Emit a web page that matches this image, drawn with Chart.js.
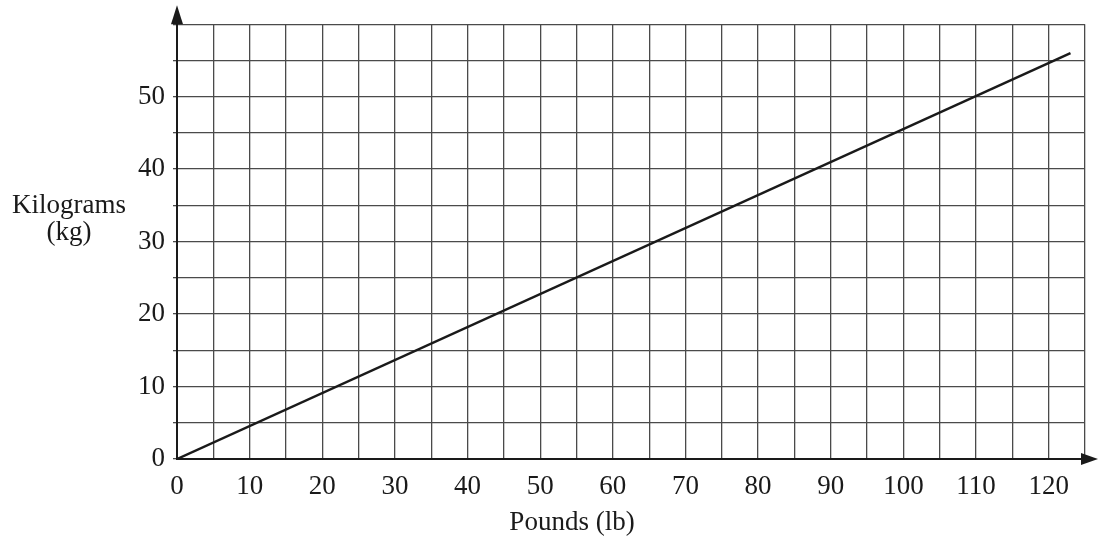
<!DOCTYPE html>
<html>
<head>
<meta charset="utf-8">
<script src="https://cdn.jsdelivr.net/npm/chart.js@4"></script>
<style>
    html, body { margin: 0; padding: 0; background: #fff; }
    #wrap { position: relative; width: 1098px; height: 540px; }
</style>
</head>
<body>
<div id="wrap"><canvas id="convChart" width="1098" height="540"></canvas></div>
<script>
// Pounds -> kilograms conversion line
const pounds = [0, 123];
const kilograms = [0, 56];

const xTitle = 'Pounds (lb)';
const yTitleLines = ['Kilograms', '(kg)'];

const FONT = '"Liberation Serif", "DejaVu Serif", serif';
const INK = '#1a1a1a';

// Axis arrows and the two axis titles (both horizontal, off-centre)
const extrasPlugin = {
    id: 'extras',
    afterDraw(chart) {
        const ctx = chart.ctx;
        const area = chart.chartArea;
        const x0 = chart.scales.x.getPixelForValue(0);
        const y0 = chart.scales.y.getPixelForValue(0);
        ctx.save();
        ctx.fillStyle = INK;
        // up arrow
        ctx.beginPath();
        ctx.moveTo(x0, area.top - 19);
        ctx.lineTo(x0 - 6, area.top);
        ctx.lineTo(x0 + 6, area.top);
        ctx.closePath();
        ctx.fill();
        // right arrow
        ctx.beginPath();
        ctx.moveTo(area.right + 13, y0);
        ctx.lineTo(area.right - 4, y0 - 6);
        ctx.lineTo(area.right - 4, y0 + 6);
        ctx.closePath();
        ctx.fill();
        // titles
        ctx.font = '27px ' + FONT;
        ctx.textAlign = 'center';
        ctx.textBaseline = 'middle';
        ctx.fillText(yTitleLines[0], 69, 206);
        ctx.fillText(yTitleLines[1], 69, 233);
        ctx.fillText(xTitle, 572, 523);
        ctx.restore();
    }
};

const ctx = document.getElementById('convChart').getContext('2d');
new Chart(ctx, {
    type: 'scatter',
    data: {
        datasets: [{
            data: pounds.map((p, i) => ({ x: p, y: kilograms[i] })),
            showLine: true,
            borderColor: INK,
            borderWidth: 2.5,
            pointRadius: 0,
            fill: false
        }]
    },
    options: {
        responsive: false,
        animation: false,
        layout: { padding: { top: 23, right: 13, left: 0, bottom: 0 } },
        plugins: {
            legend: { display: false },
            tooltip: { enabled: false }
        },
        scales: {
            x: {
                type: 'linear',
                min: 0,
                max: 125,
                afterFit(scale) { scale.height = 81; },
                border: { color: INK, width: 2 },
                grid: { color: '#4a4a4a', lineWidth: 1.3, drawTicks: false },
                ticks: {
                    stepSize: 5,
                    autoSkip: false,
                    maxRotation: 0,
                    padding: 12,
                    color: INK,
                    font: { family: FONT, size: 27 },
                    callback: v => (v % 10 === 0 && v <= 120) ? String(v) : ''
                }
            },
            y: {
                type: 'linear',
                min: 0,
                max: 60,
                afterFit(scale) { scale.width = 177; },
                border: { color: INK, width: 2 },
                grid: { color: '#4a4a4a', lineWidth: 1.3, tickLength: 4 },
                ticks: {
                    stepSize: 5,
                    autoSkip: false,
                    padding: 8,
                    color: INK,
                    font: { family: FONT, size: 27 },
                    callback: v => (v % 10 === 0 && v <= 50) ? String(v) : ''
                }
            }
        }
    },
    plugins: [extrasPlugin]
});
</script>
</body>
</html>
